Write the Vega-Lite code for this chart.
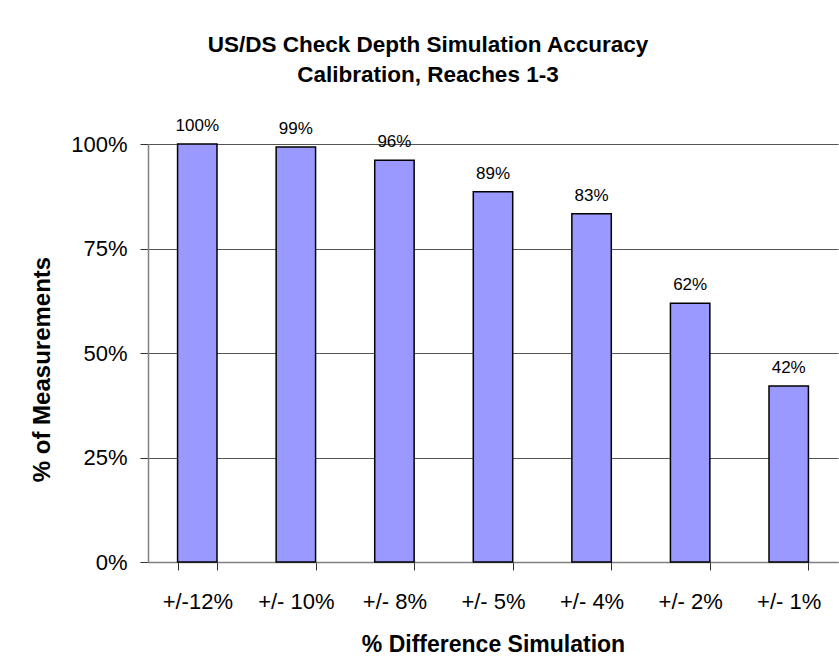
{
  "$schema": "https://vega.github.io/schema/vega-lite/v6.json",
  "width": 690,
  "height": 418,
  "autosize": {"type": "none"},
  "padding": {"left": 148, "top": 144, "right": 1, "bottom": 107},
  "background": "white",
  "title": {
    "text": ["US/DS Check Depth Simulation Accuracy", "Calibration, Reaches 1-3"],
    "font": "Liberation Sans",
    "fontSize": 22.5,
    "fontWeight": "bold",
    "lineHeight": 30,
    "anchor": "middle",
    "frame": "group",
    "dx": -65,
    "offset": 31,
    "color": "black"
  },
  "data": {
    "values": [
      {"range": "+/-12%", "pct": 1.0},
      {"range": "+/- 10%", "pct": 0.993},
      {"range": "+/- 8%", "pct": 0.961},
      {"range": "+/- 5%", "pct": 0.886},
      {"range": "+/- 4%", "pct": 0.833},
      {"range": "+/- 2%", "pct": 0.619},
      {"range": "+/- 1%", "pct": 0.421}
    ]
  },
  "encoding": {
    "x": {
      "field": "range",
      "type": "nominal",
      "sort": null,
      "scale": {"paddingInner": 0.6, "paddingOuter": 0.3},
      "axis": {
        "title": "% Difference Simulation",
        "titleFontSize": 23,
        "labelAngle": 0,
        "tickBand": "extent",
        "labelPadding": 21,
        "titlePadding": 21
      }
    },
    "y": {
      "field": "pct",
      "type": "quantitative",
      "scale": {"domain": [0, 1]},
      "axis": {
        "title": "% of Measurements",
        "titleFontSize": 24,
        "titleY": 225,
        "values": [0, 0.25, 0.5, 0.75, 1],
        "format": ".0%",
        "labelPadding": 13,
        "titlePadding": 16,
        "grid": true
      }
    }
  },
  "layer": [
    {
      "mark": {"type": "bar", "fill": "#9999FF", "stroke": "black", "strokeWidth": 1.5}
    },
    {
      "mark": {"type": "text", "baseline": "bottom", "dy": -9, "font": "Liberation Sans", "fontSize": 17, "color": "black"},
      "encoding": {"text": {"field": "pct", "type": "quantitative", "format": ".0%"}}
    }
  ],
  "config": {
    "view": {"stroke": null},
    "axis": {
      "labelFont": "Liberation Sans",
      "labelFontSize": 22,
      "labelColor": "black",
      "titleFont": "Liberation Sans",
      "titleFontWeight": "bold",
      "titleColor": "black",
      "domainColor": "#808080",
      "domainWidth": 1.5,
      "tickColor": "#303030",
      "tickSize": 8,
      "tickWidth": 1,
      "gridColor": "#555555",
      "gridWidth": 1
    }
  }
}
